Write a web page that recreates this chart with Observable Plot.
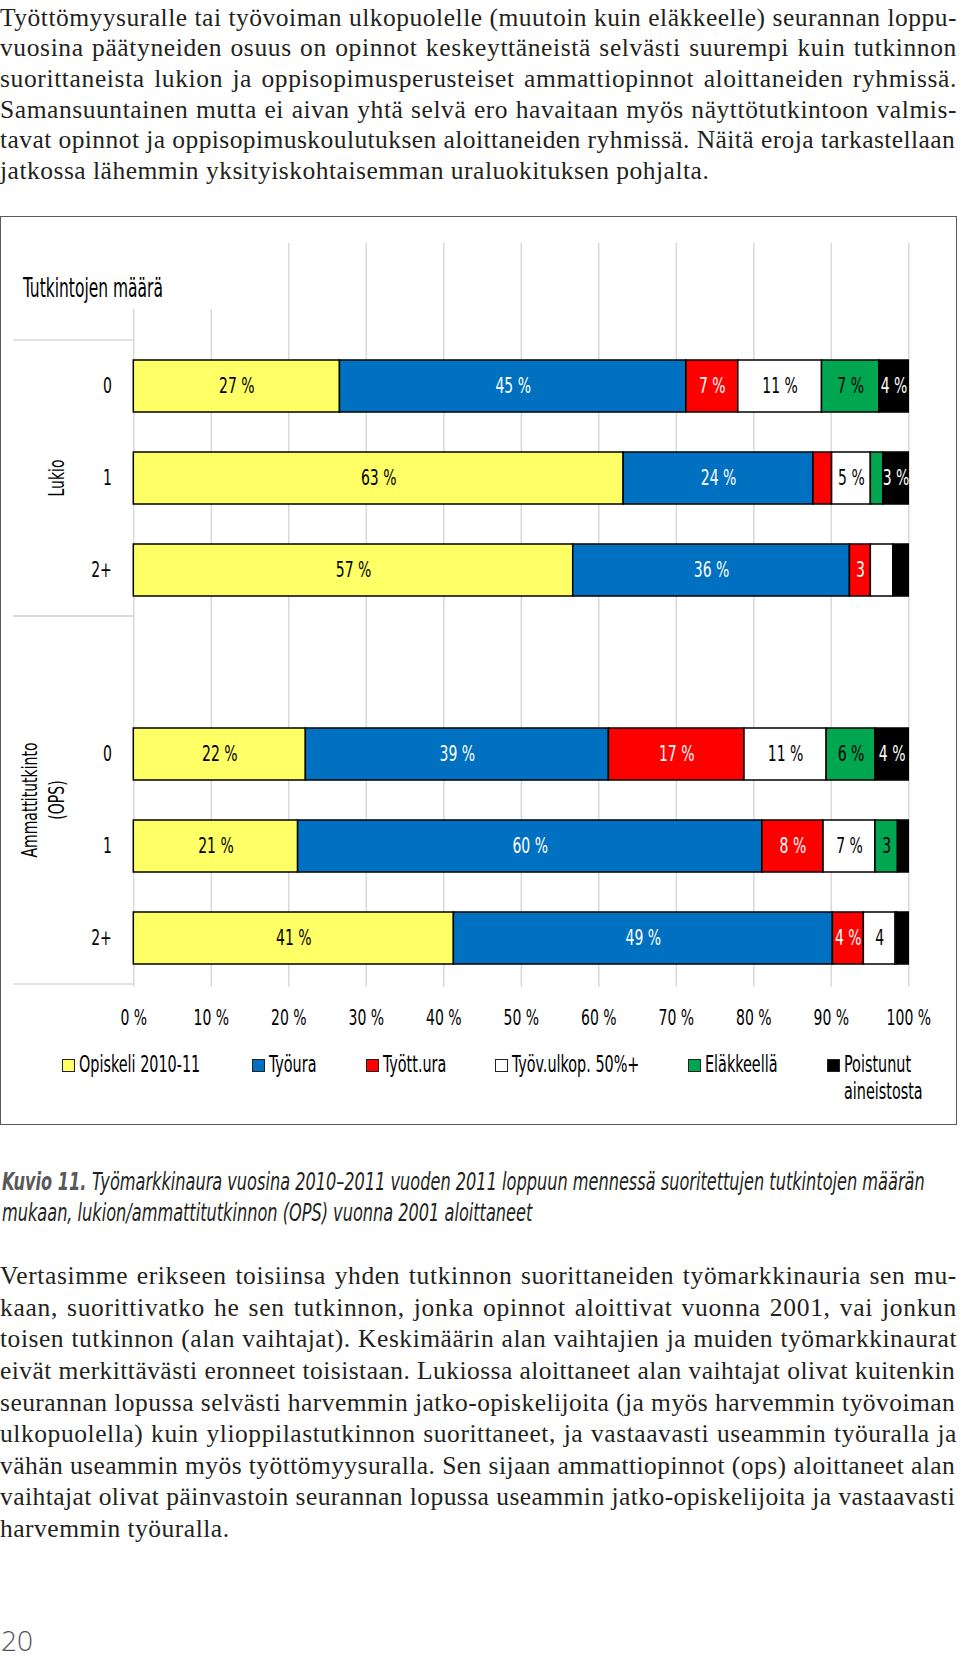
<!DOCTYPE html>
<html lang="fi">
<head>
<meta charset="utf-8">
<script src="https://cdn.jsdelivr.net/npm/d3@7"></script>
<script src="https://cdn.jsdelivr.net/npm/@observablehq/plot@0.6"></script>
<style>
  html, body { margin: 0; padding: 0; background: #fff; }
  #page { position: relative; width: 960px; height: 1657px; overflow: hidden; }
  .narrow { font-family: "Liberation Sans Narrow", "DejaVu Sans Condensed", "Arial Narrow", sans-serif; }
  .ln { position: absolute; left: 0; width: 957px; font-family: "Liberation Serif", "DejaVu Serif", serif; font-size: 25.5px; color: #231f20; }
  #frame { position: absolute; left: 0; top: 216px; width: 957px; height: 909px; box-sizing: border-box; border: 1.5px solid #5a5a5a; }
  #chart { position: absolute; left: 0; top: 220px; }
  #title { position: absolute; left: 23px; top: 273px; line-height: 30px; font-size: 21px; color: #000; transform: scale(0.82, 1.27); transform-origin: left center; white-space: nowrap; }
  .sw { position: absolute; width: 11px; height: 11px; border: 1px solid #222; }
  .lab { position: absolute; font-size: 19.5px; line-height: 24px; color: #000; transform: scale(0.82, 1.15); transform-origin: left top; width: min-content; white-space: normal; }
  .cap { position: absolute; left: 2px; font-size: 21px; line-height: 31px; color: #231f20; font-style: italic; white-space: nowrap; transform: scale(0.855, 1.15); transform-origin: left center; }
  .cap b { color: #58595b; font-weight: bold; }
  #pagenum { position: absolute; left: 1px; top: 1626px; font-family: "Open Sans", "DejaVu Sans", sans-serif; font-weight: 300; font-size: 28px; line-height: 28px; color: #555; }
</style>
</head>
<body>
<div id="page">
  <div id="frame"></div>
  <div id="chart"></div>
  <div id="title" class="narrow"></div>
  <div id="pagenum">20</div>
</div>
<script>
// ---------- data ----------
const categories = ["Opiskeli 2010-11", "Työura", "Tyött.ura", "Työv.ulkop. 50%+", "Eläkkeellä", "Poistunut aineistosta"];
const catColors = ["#ffff66", "#0070c0", "#ff0000", "#ffffff", "#00a650", "#000000"];
const labelInk = ["#000", "#fff", "#fff", "#000", "#000", "#fff"];

const slots = ["L0", "L1", "L2", "gap", "A0", "A1", "A2"];
const slotTicks = ["0", "1", "2+", "", "0", "1", "2+"];
const groupNames = [["Lukio"], ["Ammattitutkinto", "(OPS)"]];
const groupSpans = [["L0", "L2"], ["gap", "A2"]];
const xTicks = [0, 10, 20, 30, 40, 50, 60, 70, 80, 90, 100];
const chartTitle = "Tutkintojen määrä";

const dataSlots = ["L0", "L1", "L2", "A0", "A1", "A2"];
const valuesL0 = [26.6, 44.7, 6.7, 10.8, 7.4, 3.8];
const valuesL1 = [63.2, 24.5, 2.4, 5.0, 1.6, 3.3];
const valuesL2 = [56.7, 35.7, 2.7, 2.9, 0.0, 2.0];
const valuesA0 = [22.2, 39.1, 17.5, 10.6, 6.3, 4.3];
const valuesA1 = [21.2, 59.9, 7.9, 6.7, 2.9, 1.4];
const valuesA2 = [41.3, 48.9, 4.0, 4.1, 0.2, 1.5];
const labelsL0 = ["27 %", "45 %", "7 %", "11 %", "7 %", "4 %"];
const labelsL1 = ["63 %", "24 %", "", "5 %", "", "3 %"];
const labelsL2 = ["57 %", "36 %", "3", "", "", ""];
const labelsA0 = ["22 %", "39 %", "17 %", "11 %", "6 %", "4 %"];
const labelsA1 = ["21 %", "60 %", "8 %", "7 %", "3", ""];
const labelsA2 = ["41 %", "49 %", "4 %", "4", "", ""];

const para1 = [
  "Työttömyysuralle tai työvoiman ulkopuolelle (muutoin kuin eläkkeelle) seurannan loppu-",
  "vuosina päätyneiden osuus on opinnot keskeyttäneistä selvästi suurempi kuin tutkinnon",
  "suorittaneista lukion ja oppisopimusperusteiset ammattiopinnot aloittaneiden ryhmissä.",
  "Samansuuntainen mutta ei aivan yhtä selvä ero havaitaan myös näyttötutkintoon valmis-",
  "tavat opinnot ja oppisopimuskoulutuksen aloittaneiden ryhmissä. Näitä eroja tarkastellaan",
  "jatkossa lähemmin yksityiskohtaisemman uraluokituksen pohjalta."
];
const para2 = [
  "Vertasimme erikseen toisiinsa yhden tutkinnon suorittaneiden työmarkkinauria sen mu-",
  "kaan, suorittivatko he sen tutkinnon, jonka opinnot aloittivat vuonna 2001, vai jonkun",
  "toisen tutkinnon (alan vaihtajat). Keskimäärin alan vaihtajien ja muiden työmarkkinaurat",
  "eivät merkittävästi eronneet toisistaan. Lukiossa aloittaneet alan vaihtajat olivat kuitenkin",
  "seurannan lopussa selvästi harvemmin jatko-opiskelijoita (ja myös harvemmin työvoiman",
  "ulkopuolella) kuin ylioppilastutkinnon suorittaneet, ja vastaavasti useammin työuralla ja",
  "vähän useammin myös työttömyysuralla. Sen sijaan ammattiopinnot (ops) aloittaneet alan",
  "vaihtajat olivat päinvastoin seurannan lopussa useammin jatko-opiskelijoita ja vastaavasti",
  "harvemmin työuralla."
];
const captionLead = "Kuvio 11.";
const captionLines = [
  "Työmarkkinaura vuosina 2010–2011 vuoden 2011 loppuun mennessä suoritettujen tutkintojen määrän",
  "mukaan, lukion/ammattitutkinnon (OPS) vuonna 2001 aloittaneet"
];

// ---------- table ----------
const valueRows = [valuesL0, valuesL1, valuesL2, valuesA0, valuesA1, valuesA2];
const labelRows = [labelsL0, labelsL1, labelsL2, labelsA0, labelsA1, labelsA2];
const table = [];
dataSlots.forEach((slot, r) => categories.forEach((cat, c) => {
  table.push({slot, cat, value: valueRows[r][c], label: labelRows[r][c], ink: labelInk[c]});
}));

const NARROW = '"Liberation Sans Narrow", "DejaVu Sans Condensed", "Arial Narrow", sans-serif';
const TEXT_SX = 0.82, TEXT_SY = 1.12;

// group separators + group labels, positioned through the y scale
function groupDecor(index, scales, values, dims) {
  const y = scales.y;
  const bw = typeof y.bandwidth === "function" ? y.bandwidth() : (+y.bandwidth || 0);
  const step = y(slots[1]) - y(slots[0]);
  const half = (step - bw) / 2;
  const g = d3.create("svg:g");
  const xl = 13.3, xr = dims.marginLeft;
  groupSpans.forEach(([a, b], gi) => {
    const top = y(a) - half, bottom = y(b) + bw + half;
    for (const yy of [top, bottom]) {
      g.append("line").attr("x1", xl).attr("x2", xr).attr("y1", yy).attr("y2", yy)
        .attr("stroke", "#d9d9d9").attr("stroke-width", 1.5);
    }
    const cy = (top + bottom) / 2;
    const lines = groupNames[gi];
    lines.forEach((ln, i) => {
      const x = dims.marginLeft - 77 - (lines.length - 1 - i) * 27;
      g.append("text").attr("transform", `translate(${x},${cy}) rotate(-90)`)
        .attr("text-anchor", "middle").attr("dy", "0.35em").attr("fill", "#000").text(ln);
    });
  });
  return g.node();
}

const chart = Plot.plot({
  width: 960,
  height: 830,
  marginLeft: 133.3,
  marginRight: 51.7,
  marginTop: 116.5,
  marginBottom: 63.3,
  style: {background: "transparent", fontFamily: NARROW, fontSize: "19px", color: "#000", overflow: "visible"},
  x: {domain: [0, 100], ticks: xTicks, tickFormat: d => d + " %", tickSize: 0, tickPadding: 23, label: null},
  y: {domain: slots, paddingInner: 0.44, paddingOuter: 0.22, align: 0.5, tickSize: 0, tickPadding: 22,
      tickFormat: s => slotTicks[slots.indexOf(s)], label: null},
  color: {domain: categories, range: catColors},
  marks: [
    Plot.ruleX(xTicks.slice(2), {stroke: "#d9d9d9", strokeWidth: 1.5, insetTop: -93.5}),
    Plot.ruleX(xTicks.slice(0, 2), {stroke: "#d9d9d9", strokeWidth: 1.5, insetTop: -27.5}),
    groupDecor,
    Plot.barX(table, Plot.stackX({x: "value", y: "slot", z: "cat", fill: "cat", stroke: "#000", strokeWidth: 1.5})),
    Plot.text(table, Plot.stackX({x: "value", y: "slot", z: "cat", text: d => (d.ink === "#fff" && d.label) ? d.label : null, fill: "#fff", fontSize: 19})),
    Plot.text(table, Plot.stackX({x: "value", y: "slot", z: "cat", text: d => (d.ink === "#000" && d.label) ? d.label : null, fill: "#000", fontSize: 19}))
  ]
});
document.getElementById("chart").appendChild(chart);

// make chart lettering tall and narrow like the original condensed face
chart.querySelectorAll("text").forEach(t => {
  const x = +t.getAttribute("x") || 0, y = +t.getAttribute("y") || 0;
  const tr = t.getAttribute("transform") || "";
  t.setAttribute("transform", `${tr} translate(${x},${y}) scale(${TEXT_SX},${TEXT_SY}) translate(${-x},${-y})`);
});

const page = document.getElementById("page");

// ---------- legend ----------
{
  let x = 62;
  const top = 1051;
  categories.forEach((cat, i) => {
    const sw = document.createElement("div");
    sw.className = "sw";
    sw.style.background = catColors[i];
    sw.style.left = x + "px";
    sw.style.top = (top + 7.5) + "px";
    page.appendChild(sw);
    const lab = document.createElement("div");
    lab.className = "lab narrow";
    lab.textContent = cat;
    if (i < categories.length - 1) lab.style.whiteSpace = "nowrap";
    lab.style.left = (x + 17) + "px";
    lab.style.top = top + "px";
    page.appendChild(lab);
    const w = lab.getBoundingClientRect().width;
    x += 17 + w + (i === 0 ? 52 : 49);
  });
}

// ---------- body text ----------
const BASE_LS = 0.5;
function placeLines(lines, firstCenter, lh) {
  lines.forEach((txt, i) => {
    const d = document.createElement("div");
    d.className = "ln";
    d.style.top = (firstCenter - lh / 2 + i * lh) + "px";
    d.style.lineHeight = lh + "px";
    d.style.whiteSpace = "nowrap";
    const s = document.createElement("span");
    s.textContent = txt;
    s.style.letterSpacing = BASE_LS + "px";
    d.appendChild(s);
    page.appendChild(d);
    if (i < lines.length - 1) {
      const w = s.getBoundingClientRect().width;
      const extra = 957 - w;
      if (extra > 0) {
        s.style.letterSpacing = (BASE_LS + extra * 0.45 / txt.length) + "px";
        d.style.whiteSpace = "normal";
        d.style.textAlign = "justify";
        d.style.textAlignLast = "justify";
      } else {
        s.style.letterSpacing = (BASE_LS + extra / txt.length - 0.02) + "px";
      }
    }
  });
}
placeLines(para1, 18, 30.65);
placeLines(para2, 1276, 31.6);

// ---------- caption ----------
[1182, 1213].forEach((cy, i) => {
  const d = document.createElement("div");
  d.className = "cap narrow";
  d.style.top = (cy - 15.5) + "px";
  if (i === 0) {
    const b = document.createElement("b");
    b.textContent = captionLead + " ";
    d.appendChild(b);
  }
  d.appendChild(document.createTextNode(captionLines[i]));
  page.appendChild(d);
});
document.getElementById("title").textContent = chartTitle;
</script>
</body>
</html>
